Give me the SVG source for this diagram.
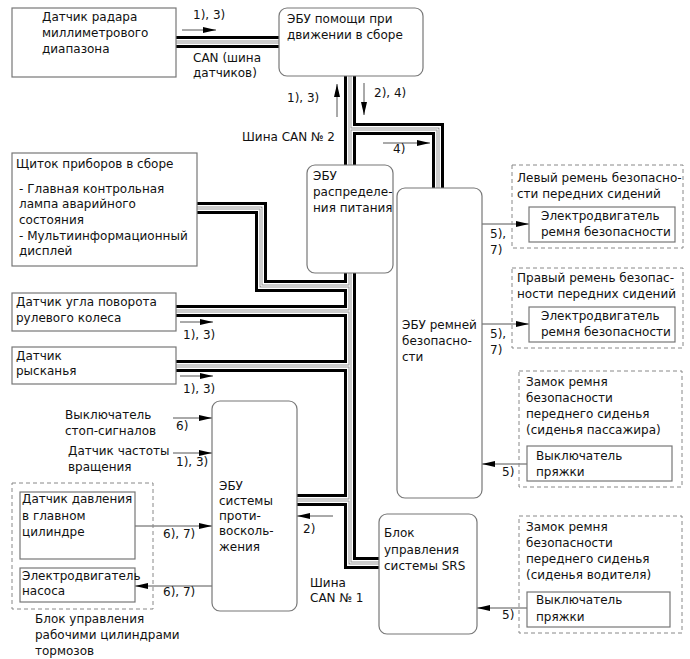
<svg xmlns="http://www.w3.org/2000/svg" width="690" height="659" viewBox="0 0 690 659">
<defs>
<marker id="ah" viewBox="0 0 13 6" refX="13" refY="3" markerWidth="13" markerHeight="6" orient="auto" markerUnits="userSpaceOnUse"><path d="M0,0 L13,3 L0,6 z" fill="#000"/></marker>
<style>
.t{font-family:"DejaVu Sans","Liberation Sans",sans-serif;font-size:12px;fill:#111}
.box{fill:#fff;stroke:#777;stroke-width:1.2}
.dash{fill:none;stroke:#888;stroke-width:1;stroke-dasharray:4 3}
.bus{fill:none;stroke-linejoin:miter;stroke-linecap:butt}
.bk{stroke:#000;stroke-width:12}
.wh{stroke:#fff;stroke-width:6}
.gr{stroke:#9a9a9a;stroke-width:3}
.w2{stroke:#fff;stroke-width:1}
.arr{fill:none;stroke:#555;stroke-width:1;marker-end:url(#ah)}
</style>
<g id="busPaths" fill="none">
<path d="M176,42 H279"/>
<path d="M350,76 V563 H380"/>
<path d="M350,129 H438 V188"/>
<path d="M197,208 H261 V286 H350"/>
<path d="M176,311 H350"/>
<path d="M176,366 H350"/>
<path d="M297,500 H350"/>
</g>
</defs>
<rect width="690" height="659" fill="#fff"/>
<g id="connectors">
<g class="bus bk"><use href="#busPaths"/></g>
<g class="bus wh"><use href="#busPaths"/></g>
<g class="bus gr"><use href="#busPaths"/></g>
<g class="bus w2"><use href="#busPaths"/></g>
<path class="arr" d="M182,30 H216"/>
<path class="arr" d="M337,117 V84"/>
<path class="arr" d="M364,83 V115"/>
<path class="arr" d="M383,143 H430"/>
<path class="arr" d="M180,322 H213"/>
<path class="arr" d="M180,376 H213"/>
<path class="arr" d="M173,418 H212"/>
<path class="arr" d="M173,453 H212"/>
<path class="arr" d="M135,526 H212"/>
<path class="arr" d="M212,586 H135"/>
<path class="arr" d="M333,516 H297"/>
<path class="arr" d="M482,224 H529"/>
<path class="arr" d="M482,324 H529"/>
<path class="arr" d="M527,464 H482"/>
<path class="arr" d="M527,608 H477"/>
<text class="t" x="193" y="19">1), 3)</text>
<text class="t" x="193" y="62">CAN (шина</text>
<text class="t" x="193" y="77">датчиков)</text>
<text class="t" x="287" y="102">1), 3)</text>
<text class="t" x="374" y="97">2), 4)</text>
<text class="t" x="242" y="141">Шина CAN № 2</text>
<text class="t" x="393" y="153">4)</text>
<text class="t" x="183" y="339">1), 3)</text>
<text class="t" x="183" y="393">1), 3)</text>
<text class="t" x="176" y="430">6)</text>
<text class="t" x="176" y="466">1), 3)</text>
<text class="t" x="163" y="538">6), 7)</text>
<text class="t" x="163" y="596">6), 7)</text>
<text class="t" x="303" y="533">2)</text>
<text class="t" x="310" y="587">Шина</text>
<text class="t" x="310" y="602">CAN № 1</text>
<text class="t" x="490" y="238">5),</text>
<text class="t" x="490" y="254">7)</text>
<text class="t" x="490" y="338">5),</text>
<text class="t" x="490" y="354">7)</text>
<text class="t" x="502" y="476">5)</text>
<text class="t" x="502" y="619">5)</text>
</g>
<g id="radar">
<rect class="box" x="12" y="8" width="164" height="69"/>
<text class="t" x="42" y="21">Датчик радара</text>
<text class="t" x="42" y="37">миллиметрового</text>
<text class="t" x="42" y="53">диапазона</text>
</g>
<g id="driveAssistEcu">
<rect class="box" x="279" y="8" width="144" height="68" rx="8"/>
<text class="t" x="287" y="23">ЭБУ помощи при</text>
<text class="t" x="287" y="39">движении в сборе</text>
</g>
<g id="powerEcu">
<rect class="box" x="307" y="165" width="86" height="108" rx="8"/>
<text class="t" x="313" y="180">ЭБУ</text>
<text class="t" x="313" y="196">распределе-</text>
<text class="t" x="313" y="212">ния питания</text>
</g>
<g id="beltEcu">
<rect class="box" x="397" y="188" width="85" height="310" rx="8"/>
<text class="t" x="402" y="329">ЭБУ ремней</text>
<text class="t" x="402" y="345">безопасно-</text>
<text class="t" x="402" y="361">сти</text>
</g>
<g id="cluster">
<rect class="box" x="12" y="153" width="185" height="113"/>
<text class="t" x="16" y="168">Щиток приборов в сборе</text>
<text class="t" x="19" y="193">- Главная контрольная</text>
<text class="t" x="19" y="208">лампа аварийного</text>
<text class="t" x="19" y="224">состояния</text>
<text class="t" x="19" y="240">- Мультиинформационный</text>
<text class="t" x="19" y="255">дисплей</text>
</g>
<g id="steering">
<rect class="box" x="12" y="293" width="164" height="38"/>
<text class="t" x="16" y="306">Датчик угла поворота</text>
<text class="t" x="16" y="322">рулевого колеса</text>
</g>
<g id="yaw">
<rect class="box" x="12" y="347" width="164" height="37"/>
<text class="t" x="16" y="360">Датчик</text>
<text class="t" x="16" y="375">рысканья</text>
</g>
<g id="stopSwitch">
<text class="t" x="65" y="419">Выключатель</text>
<text class="t" x="65" y="435">стоп-сигналов</text>
</g>
<g id="speedSensor">
<text class="t" x="68" y="455">Датчик частоты</text>
<text class="t" x="68" y="471">вращения</text>
</g>
<g id="absEcu">
<rect class="box" x="212" y="401" width="85" height="210" rx="8"/>
<text class="t" x="219" y="490">ЭБУ</text>
<text class="t" x="219" y="505">системы</text>
<text class="t" x="219" y="520">проти-</text>
<text class="t" x="219" y="535">восколь-</text>
<text class="t" x="219" y="551">жения</text>
</g>
<g id="brakeActuator">
<rect class="dash" x="12" y="483" width="141" height="126"/>
<text class="t" x="35" y="623">Блок управления</text>
<text class="t" x="35" y="639">рабочими цилиндрами</text>
<text class="t" x="35" y="655">тормозов</text>
</g>
<g id="pressureSensor">
<rect class="box" x="20" y="492" width="115" height="67"/>
<text class="t" x="22" y="503">Датчик давления</text>
<text class="t" x="22" y="520">в главном</text>
<text class="t" x="22" y="536">цилиндре</text>
</g>
<g id="pumpMotor">
<rect class="box" x="20" y="568" width="115" height="34"/>
<text class="t" x="22" y="580">Электродвигатель</text>
<text class="t" x="22" y="595">насоса</text>
</g>
<g id="srs">
<rect class="box" x="379" y="514" width="98" height="120" rx="8"/>
<text class="t" x="384" y="537">Блок</text>
<text class="t" x="384" y="554">управления</text>
<text class="t" x="384" y="570">системы SRS</text>
</g>
<g id="leftBelt">
<rect class="dash" x="512" y="165" width="171" height="83"/>
<text class="t" x="517" y="182">Левый ремень безопасно-</text>
<text class="t" x="517" y="198">сти передних сидений</text>
</g>
<g id="leftBeltMotor">
<rect class="box" x="529" y="207" width="146" height="35"/>
<text class="t" x="541" y="220">Электродвигатель</text>
<text class="t" x="541" y="236">ремня безопасности</text>
</g>
<g id="rightBelt">
<rect class="dash" x="512" y="268" width="171" height="80"/>
<text class="t" x="517" y="282">Правый ремень безопас-</text>
<text class="t" x="517" y="298">ности передних сидений</text>
</g>
<g id="rightBeltMotor">
<rect class="box" x="529" y="307" width="146" height="35"/>
<text class="t" x="541" y="320">Электродвигатель</text>
<text class="t" x="541" y="336">ремня безопасности</text>
</g>
<g id="passengerBuckle">
<rect class="dash" x="519" y="371" width="163" height="116"/>
<text class="t" x="526" y="386">Замок ремня</text>
<text class="t" x="526" y="402">безопасности</text>
<text class="t" x="526" y="418">переднего сиденья</text>
<text class="t" x="526" y="434">(сиденья пассажира)</text>
</g>
<g id="passengerBuckleSwitch">
<rect class="box" x="527" y="446" width="145" height="35"/>
<text class="t" x="536" y="460">Выключатель</text>
<text class="t" x="536" y="476">пряжки</text>
</g>
<g id="driverBuckle">
<rect class="dash" x="519" y="516" width="163" height="117"/>
<text class="t" x="526" y="531">Замок ремня</text>
<text class="t" x="526" y="547">безопасности</text>
<text class="t" x="526" y="563">переднего сиденья</text>
<text class="t" x="526" y="579">(сиденья водителя)</text>
</g>
<g id="driverBuckleSwitch">
<rect class="box" x="527" y="592" width="143" height="35"/>
<text class="t" x="536" y="604">Выключатель</text>
<text class="t" x="536" y="621">пряжки</text>
</g>
</svg>
